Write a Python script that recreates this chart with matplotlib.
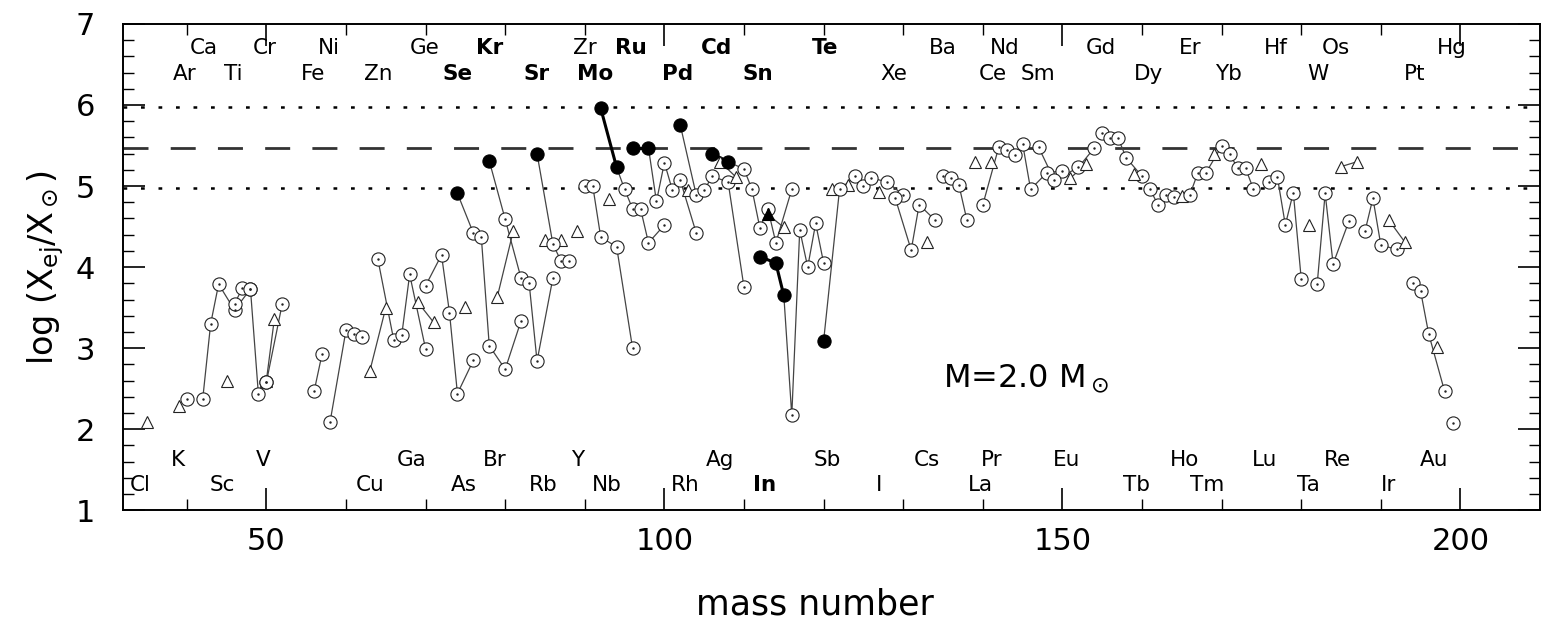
import matplotlib.pyplot as plt
import numpy as np

# isotopes: element, mass number, log overproduction, p-only flag
elem = (["Cl", "K", "Ar"] + ["Ca"] * 5 + ["Sc"] + ["Ti"] * 5 + ["V"] * 2 + ["Cr"] * 2
        + ["Fe"] * 2 + ["Ni"] * 4 + ["Cu"] * 2 + ["Zn"] * 5 + ["Ga"] * 2 + ["Ge"] * 5
        + ["As"] + ["Se"] * 6 + ["Br"] * 2 + ["Kr"] * 6 + ["Rb"] * 2 + ["Sr"] * 4
        + ["Y"] + ["Zr"] * 5 + ["Nb"] + ["Mo"] * 7 + ["Ru"] * 7 + ["Rh"] + ["Pd"] * 6
        + ["Ag"] * 2 + ["Cd"] * 8 + ["In"] * 2 + ["Sn"] * 8 + ["Sb"] * 2 + ["Te"] * 7
        + ["I"] + ["Xe"] * 4 + ["Cs"] + ["Ba"] * 4 + ["La"] + ["Ce"] * 2 + ["Pr"]
        + ["Nd"] * 6 + ["Sm"] * 4 + ["Eu"] * 2 + ["Gd"] * 5 + ["Tb"] + ["Dy"] * 4
        + ["Ho"] + ["Er"] * 4 + ["Tm"] + ["Yb"] * 4 + ["Lu"] + ["Hf"] * 5 + ["Ta"]
        + ["W"] * 4 + ["Re"] * 2 + ["Os"] * 4 + ["Ir"] * 2 + ["Pt"] * 4 + ["Au"] + ["Hg"])

mass = [35, 39, 40,
        42, 43, 44, 46, 48,
        45,
        46, 47, 48, 49, 50,
        50, 51,
        50, 52,
        56, 57,
        58, 60, 61, 62,
        63, 65,
        64, 66, 67, 68, 70,
        69, 71,
        70, 72, 73, 74, 76,
        75,
        74, 76, 77, 78, 80, 82,
        79, 81,
        78, 80, 82, 83, 84, 86,
        85, 87,
        84, 86, 87, 88,
        89,
        90, 91, 92, 94, 96,
        93,
        92, 94, 95, 96, 97, 98, 100,
        96, 98, 99, 100, 101, 102, 104,
        103,
        102, 104, 105, 106, 108, 110,
        107, 109,
        106, 108, 110, 111, 112, 113, 114, 116,
        113, 115,
        112, 114, 115, 116, 117, 118, 119, 120,
        121, 123,
        120, 122, 124, 125, 126, 128, 130,
        127,
        129, 131, 132, 134,
        133,
        135, 136, 137, 138,
        139,
        140, 142,
        141,
        143, 144, 145, 146, 148, 150,
        147, 149, 152, 154,
        151, 153,
        155, 156, 157, 158, 160,
        159,
        161, 162, 163, 164,
        165,
        166, 167, 168, 170,
        169,
        171, 172, 173, 174,
        175,
        176, 177, 178, 179, 180,
        181,
        182, 183, 184, 186,
        185, 187,
        188, 189, 190, 192,
        191, 193,
        194, 195, 196, 198,
        197,
        199]

logx = [2.09, 2.29, 2.37,
        2.37, 3.30, 3.79, 3.47, 3.73,
        2.60,
        3.55, 3.74, 3.73, 2.43, 2.58,
        2.60, 3.36,
        2.58, 3.55,
        2.47, 2.93,
        2.09, 3.22, 3.17, 3.14,
        2.72, 3.50,
        4.10, 3.10, 3.16, 3.91, 2.99,
        3.57, 3.32,
        3.77, 4.15, 3.44, 2.44, 2.85,
        3.51,
        4.91, 4.42, 4.37, 3.03, 2.74, 3.34,
        3.63, 4.44,
        5.31, 4.59, 3.86, 3.81, 2.84, 3.87,
        4.34, 4.34,
        5.40, 4.28, 4.08, 4.08,
        4.44,
        5.00, 5.00, 4.37, 4.25, 3.00,
        4.84,
        5.96, 5.23, 4.96, 4.72, 4.72, 4.30, 4.52,
        5.47, 5.47, 4.81, 5.29, 4.95, 5.07, 4.42,
        4.95,
        5.75, 4.89, 4.95, 5.12, 5.05, 3.75,
        5.30, 5.11,
        5.40, 5.30, 5.21, 4.96, 4.48, 4.72, 4.30, 4.96,
        4.65, 4.49,
        4.13, 4.05, 3.65, 2.17, 4.46, 4.00, 4.54, 4.05,
        4.96, 5.01,
        3.09, 4.96, 5.12, 5.00, 5.10, 5.05, 4.89,
        4.93,
        4.85, 4.21, 4.77, 4.58,
        4.31,
        5.12, 5.10, 5.01, 4.58,
        5.30,
        4.77, 5.48,
        5.30,
        5.44, 5.38, 5.52, 4.96, 5.16, 5.19,
        5.48, 5.07, 5.23, 5.47,
        5.10, 5.27,
        5.65, 5.59, 5.59, 5.35, 5.12,
        5.15,
        4.96, 4.77, 4.89, 4.86,
        4.88,
        4.89, 5.16, 5.16, 5.49,
        5.40,
        5.40, 5.22, 5.22, 4.96,
        5.27,
        5.05, 5.11, 4.52, 4.92, 3.85,
        4.52,
        3.79, 4.91, 4.04, 4.57,
        5.24, 5.30,
        4.44, 4.85, 4.27, 4.22,
        4.58, 4.31,
        3.80, 3.70, 3.18, 2.47,
        3.02,
        2.08]

# p-only isotopes (filled symbols)
p_only = {("Se", 74), ("Kr", 78), ("Sr", 84), ("Mo", 92), ("Mo", 94), ("Ru", 96),
          ("Ru", 98), ("Pd", 102), ("Cd", 106), ("Cd", 108), ("In", 113),
          ("Sn", 112), ("Sn", 114), ("Sn", 115), ("Te", 120)}

odd_z = {"Cl", "K", "Sc", "V", "Cu", "Ga", "As", "Br", "Rb", "Y", "Nb", "Rh", "Ag",
         "In", "Sb", "I", "Cs", "La", "Pr", "Eu", "Tb", "Ho", "Tm", "Lu", "Ta", "Re",
         "Ir", "Au"}

# element labels along the frame: (name, mass position)
label_top1 = [("Ca", 42.1), ("Cr", 49.8), ("Ni", 57.9), ("Ge", 69.9), ("Kr", 78.0),
              ("Zr", 90.0), ("Ru", 95.8), ("Cd", 106.6), ("Te", 120.2), ("Ba", 135.0),
              ("Nd", 142.7), ("Gd", 154.8), ("Er", 166.0), ("Hf", 176.8),
              ("Os", 184.4), ("Hg", 198.9)]
label_top2 = [("Ar", 39.8), ("Ti", 45.8), ("Fe", 55.9), ("Zn", 64.0), ("Se", 74.0),
              ("Sr", 84.0), ("Mo", 91.3), ("Pd", 101.7), ("Sn", 111.7), ("Xe", 128.8),
              ("Ce", 141.2), ("Sm", 146.9), ("Dy", 160.8), ("Yb", 170.8),
              ("W", 182.1), ("Pt", 194.3)]
label_bot1 = [("K", 38.9), ("V", 49.6), ("Ga", 68.3), ("Br", 78.7), ("Y", 89.1),
              ("Ag", 107.0), ("Sb", 120.5), ("Cs", 133.0), ("Pr", 141.1),
              ("Eu", 150.5), ("Ho", 165.3), ("Lu", 175.4), ("Re", 184.6),
              ("Au", 196.7)]
label_bot2 = [("Cl", 34.1), ("Sc", 44.5), ("Cu", 63.0), ("As", 74.8), ("Rb", 84.8),
              ("Nb", 92.8), ("Rh", 102.6), ("In", 112.6), ("I", 127.0), ("La", 139.7),
              ("Tb", 159.3), ("Tm", 168.2), ("Ta", 180.9), ("Ir", 191.0)]
bold_elems = {"Se", "Kr", "Sr", "Mo", "Ru", "Pd", "Cd", "Sn", "Te", "In"}

mean_level = 5.47
band = 0.5

mass = np.array(mass)
logx = np.array(logx)
elem = np.array(elem)

fig, ax = plt.subplots(figsize=(15.58, 6.30), dpi=100)
fig.subplots_adjust(left=0.079, right=0.9885, top=0.962, bottom=0.19)

ax.axhline(mean_level, color="#333333", lw=2.0, ls=(0, (9, 8)))
for lev in (mean_level + band, mean_level - band):
    ax.axhline(lev, color="black", lw=1.8, ls=(0, (1.5, 5.5)))

seen = []
for e in elem:
    if e not in seen:
        seen.append(e)

for e in seen:
    sel = elem == e
    m, v = mass[sel], logx[sel]
    order = np.argsort(m, kind="stable")
    m, v = m[order], v[order]
    if len(m) > 1:
        ax.plot(m, v, color="#444444", lw=0.9, zorder=2)
    pm = np.array([(e, int(a)) in p_only for a in m])
    if pm.sum() > 1:
        ax.plot(m[pm], v[pm], color="black", lw=2.2, zorder=2.5)
    marker = "^" if e in odd_z else "o"
    ms = 9 if marker == "^" else 9.5
    for a, y, isp in zip(m, v, pm):
        if isp:
            ax.plot(a, y, marker=marker, ms=ms, mfc="black", mec="black", mew=0.8,
                    zorder=4)
        else:
            ax.plot(a, y, marker=marker, ms=ms, mfc="white", mec="#222222", mew=0.8,
                    zorder=3)
            if marker == "o":
                ax.plot(a, y, marker=".", ms=1.5, color="#222222", zorder=3.5)

for row, yy in ((label_top1, 6.70), (label_top2, 6.38), (label_bot1, 1.62),
                (label_bot2, 1.31)):
    for name, xx in row:
        ax.text(xx, yy, name, ha="center", va="center", fontsize=15.5,
                fontweight="bold" if name in bold_elems else "normal")

ax.text(135.0, 2.63, r"M=2.0 M$_\odot$", fontsize=23, ha="left", va="center")

ax.set_xlim(32, 210)
ax.set_ylim(1, 7)
ax.set_xticks([50, 100, 150, 200])
ax.set_xticks(np.arange(40, 210, 10), minor=True)
ax.set_yticks(np.arange(1, 8, 1))
ax.set_yticks(np.arange(1, 7.01, 0.2), minor=True)
ax.tick_params(which="both", direction="in", top=True, right=True, labelsize=22)
ax.tick_params(which="major", length=16, width=1.2)
ax.tick_params(which="minor", length=8, width=1.0)
ax.tick_params(axis="x", pad=12)
ax.tick_params(axis="y", pad=20)
for sp in ax.spines.values():
    sp.set_linewidth(1.4)

ax.set_xlabel("mass number", fontsize=25)
ax.xaxis.set_label_coords(0.488, -0.158)
ax.set_ylabel(r"log (X$_{\rm ej}$/X$_\odot$)", fontsize=24)
ax.yaxis.set_label_coords(-0.04, 0.5)

fig.savefig("out.png", dpi=100)
